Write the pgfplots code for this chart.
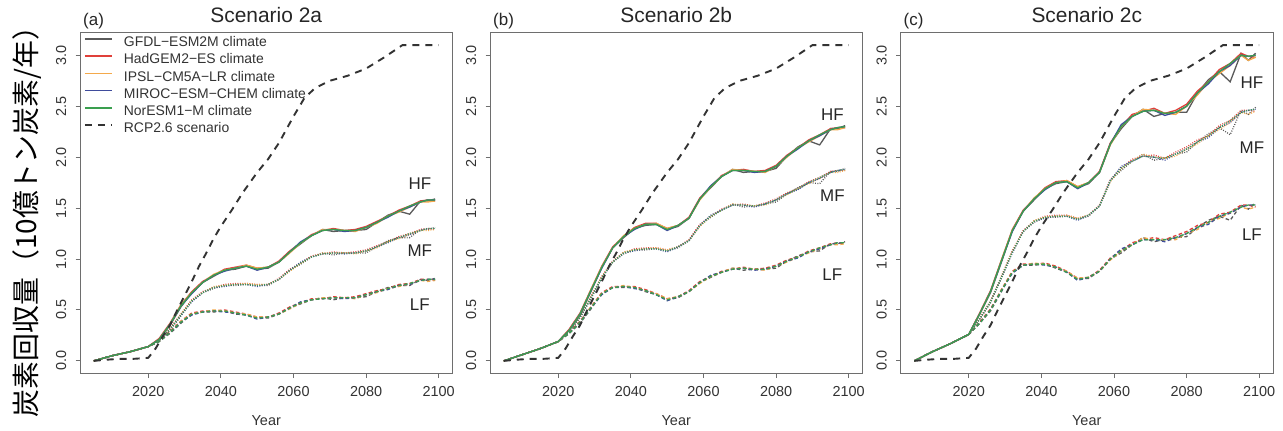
\documentclass[border=0pt]{standalone}
\usepackage{fontspec}
\setmainfont{Liberation Sans}
\newfontfamily\cjk{Noto Sans CJK JP}
\usepackage{pgfplots}
\usepackage{pgfplotstable}
\pgfplotsset{compat=1.18}

\definecolor{cG}{HTML}{5A5A5A}
\definecolor{cH}{HTML}{E0403A}
\definecolor{cI}{HTML}{F4A94B}
\definecolor{cM}{HTML}{3F4C9C}
\definecolor{cN}{HTML}{3A9F4F}
\definecolor{boxgray}{HTML}{6E6E6E}
\definecolor{txt}{HTML}{333333}

\pgfplotstableread[row sep=\\]{
yr hG hH hI hM hN mG mH mI mM mN lG lH lI lM lN \\
2005 0 0 0 0 0 0 0 0 0 0 0 0 0 0 0 \\
2010 0.05 0.05 0.05 0.05 0.05 0.05 0.05 0.05 0.05 0.05 0.05 0.05 0.05 0.05 0.05 \\
2015 0.09 0.09 0.09 0.09 0.09 0.09 0.09 0.09 0.09 0.09 0.09 0.09 0.09 0.09 0.09 \\
2020 0.14 0.14 0.14 0.14 0.14 0.14 0.14 0.14 0.14 0.14 0.14 0.14 0.14 0.14 0.14 \\
2023 0.21 0.22 0.21 0.21 0.21 0.20 0.21 0.20 0.20 0.20 0.19 0.20 0.19 0.19 0.19 \\
2026 0.35 0.37 0.36 0.36 0.36 0.30 0.32 0.31 0.31 0.31 0.27 0.29 0.28 0.28 0.28 \\
2029 0.53 0.55 0.55 0.54 0.54 0.44 0.46 0.46 0.45 0.45 0.37 0.39 0.39 0.38 0.38 \\
2032 0.67 0.68 0.67 0.66 0.67 0.59 0.60 0.59 0.58 0.59 0.46 0.47 0.46 0.45 0.46 \\
2035 0.77 0.78 0.77 0.77 0.77 0.67 0.68 0.67 0.67 0.67 0.48 0.49 0.48 0.48 0.48 \\
2038 0.83 0.84 0.85 0.84 0.84 0.71 0.72 0.73 0.72 0.72 0.48 0.49 0.50 0.49 0.49 \\
2041 0.89 0.90 0.89 0.88 0.89 0.74 0.75 0.74 0.73 0.74 0.49 0.50 0.49 0.48 0.49 \\
2044 0.90 0.92 0.91 0.91 0.91 0.74 0.76 0.75 0.75 0.75 0.46 0.48 0.47 0.47 0.47 \\
2047 0.93 0.94 0.94 0.93 0.93 0.75 0.76 0.76 0.75 0.75 0.45 0.46 0.46 0.45 0.45 \\
2050 0.90 0.91 0.91 0.89 0.90 0.74 0.75 0.75 0.73 0.74 0.42 0.43 0.43 0.41 0.42 \\
2053 0.91 0.92 0.92 0.92 0.92 0.74 0.75 0.75 0.75 0.75 0.42 0.43 0.43 0.43 0.43 \\
2056 0.97 0.98 0.97 0.97 0.97 0.80 0.81 0.80 0.80 0.80 0.46 0.47 0.46 0.46 0.46 \\
2059 1.07 1.08 1.06 1.07 1.07 0.89 0.90 0.88 0.89 0.89 0.52 0.53 0.51 0.52 0.52 \\
2062 1.15 1.16 1.16 1.17 1.16 0.95 0.96 0.96 0.97 0.96 0.56 0.57 0.57 0.58 0.57 \\
2065 1.23 1.24 1.23 1.23 1.23 1.02 1.03 1.02 1.02 1.02 0.60 0.61 0.60 0.60 0.60 \\
2068 1.29 1.28 1.29 1.28 1.28 1.06 1.05 1.06 1.05 1.05 0.62 0.61 0.62 0.61 0.61 \\
2071 1.27 1.30 1.29 1.29 1.29 1.04 1.07 1.06 1.06 1.06 0.60 0.63 0.62 0.62 0.62 \\
2074 1.28 1.28 1.28 1.27 1.28 1.06 1.06 1.06 1.05 1.06 0.62 0.62 0.62 0.61 0.62 \\
2077 1.28 1.29 1.27 1.28 1.28 1.06 1.07 1.05 1.06 1.06 0.62 0.63 0.61 0.62 0.62 \\
2080 1.29 1.32 1.31 1.31 1.31 1.06 1.09 1.08 1.08 1.08 0.63 0.66 0.65 0.65 0.65 \\
2083 1.36 1.37 1.35 1.36 1.36 1.12 1.13 1.11 1.12 1.12 0.68 0.69 0.67 0.68 0.68 \\
2086 1.43 1.42 1.42 1.41 1.42 1.18 1.17 1.17 1.16 1.17 0.72 0.71 0.71 0.70 0.71 \\
2089 1.47 1.48 1.46 1.47 1.47 1.21 1.22 1.20 1.21 1.21 0.74 0.75 0.73 0.74 0.74 \\
2092 1.44 1.52 1.51 1.51 1.52 1.21 1.25 1.24 1.24 1.25 0.74 0.76 0.75 0.75 0.76 \\
2095 1.57 1.57 1.56 1.56 1.56 1.29 1.29 1.28 1.28 1.28 0.80 0.80 0.79 0.79 0.79 \\
2097 1.57 1.58 1.56 1.58 1.58 1.29 1.30 1.28 1.30 1.30 0.79 0.80 0.78 0.80 0.80 \\
2099 1.59 1.57 1.57 1.58 1.58 1.31 1.29 1.29 1.30 1.30 0.81 0.79 0.79 0.80 0.80 \\
}\tabA

\pgfplotstableread[row sep=\\]{
yr hG hH hI hM hN mG mH mI mM mN lG lH lI lM lN \\
2005 0 0 0 0 0 0 0 0 0 0 0 0 0 0 0 \\
2010 0.06 0.06 0.06 0.06 0.06 0.06 0.06 0.06 0.06 0.06 0.06 0.06 0.06 0.06 0.06 \\
2015 0.12 0.12 0.12 0.12 0.12 0.12 0.12 0.12 0.12 0.12 0.12 0.12 0.12 0.12 0.12 \\
2020 0.19 0.19 0.19 0.19 0.19 0.19 0.19 0.19 0.19 0.19 0.19 0.19 0.19 0.19 0.19 \\
2023 0.30 0.31 0.30 0.30 0.30 0.29 0.30 0.29 0.29 0.29 0.27 0.28 0.27 0.27 0.27 \\
2026 0.45 0.47 0.46 0.46 0.46 0.42 0.44 0.43 0.43 0.43 0.37 0.39 0.38 0.38 0.38 \\
2029 0.68 0.70 0.70 0.69 0.69 0.61 0.63 0.63 0.62 0.62 0.51 0.53 0.53 0.52 0.52 \\
2032 0.92 0.93 0.92 0.91 0.92 0.82 0.83 0.82 0.81 0.82 0.66 0.67 0.66 0.65 0.66 \\
2035 1.11 1.12 1.11 1.11 1.11 0.97 0.98 0.97 0.97 0.97 0.72 0.73 0.72 0.72 0.72 \\
2038 1.21 1.22 1.23 1.22 1.22 1.05 1.06 1.07 1.06 1.06 0.72 0.73 0.74 0.73 0.73 \\
2041 1.30 1.31 1.30 1.29 1.30 1.09 1.10 1.09 1.08 1.09 0.72 0.73 0.72 0.71 0.72 \\
2044 1.33 1.35 1.34 1.34 1.34 1.09 1.11 1.10 1.10 1.10 0.68 0.70 0.69 0.69 0.69 \\
2047 1.34 1.35 1.35 1.34 1.34 1.10 1.11 1.11 1.10 1.10 0.65 0.66 0.66 0.65 0.65 \\
2050 1.29 1.30 1.30 1.28 1.29 1.08 1.09 1.09 1.07 1.08 0.60 0.61 0.61 0.59 0.60 \\
2053 1.32 1.33 1.33 1.33 1.33 1.11 1.12 1.12 1.12 1.12 0.62 0.63 0.63 0.63 0.63 \\
2056 1.40 1.41 1.40 1.40 1.40 1.18 1.19 1.18 1.18 1.18 0.68 0.69 0.68 0.68 0.68 \\
2059 1.59 1.60 1.58 1.59 1.59 1.33 1.34 1.32 1.33 1.33 0.77 0.78 0.76 0.77 0.77 \\
2062 1.70 1.71 1.71 1.72 1.71 1.41 1.42 1.42 1.43 1.42 0.82 0.83 0.83 0.84 0.83 \\
2065 1.81 1.82 1.81 1.81 1.81 1.48 1.49 1.48 1.48 1.48 0.87 0.88 0.87 0.87 0.87 \\
2068 1.88 1.87 1.88 1.87 1.87 1.54 1.53 1.54 1.53 1.53 0.91 0.90 0.91 0.90 0.90 \\
2071 1.85 1.88 1.87 1.87 1.87 1.51 1.54 1.53 1.53 1.53 0.89 0.92 0.91 0.91 0.91 \\
2074 1.86 1.86 1.86 1.85 1.86 1.52 1.52 1.52 1.51 1.52 0.90 0.90 0.90 0.89 0.90 \\
2077 1.86 1.87 1.85 1.86 1.86 1.54 1.55 1.53 1.54 1.54 0.90 0.91 0.89 0.90 0.90 \\
2080 1.89 1.92 1.91 1.91 1.91 1.56 1.59 1.58 1.58 1.58 0.91 0.94 0.93 0.93 0.93 \\
2083 2.01 2.02 2.00 2.01 2.01 1.64 1.65 1.63 1.64 1.64 0.98 0.99 0.97 0.98 0.98 \\
2086 2.10 2.09 2.09 2.08 2.09 1.70 1.69 1.69 1.68 1.69 1.03 1.02 1.02 1.01 1.02 \\
2089 2.16 2.17 2.15 2.16 2.16 1.75 1.76 1.74 1.75 1.75 1.07 1.08 1.06 1.07 1.07 \\
2092 2.12 2.22 2.21 2.21 2.22 1.74 1.80 1.79 1.79 1.80 1.08 1.11 1.10 1.10 1.11 \\
2095 2.28 2.28 2.27 2.27 2.27 1.86 1.86 1.85 1.85 1.85 1.15 1.15 1.14 1.14 1.14 \\
2097 2.28 2.29 2.27 2.29 2.29 1.86 1.87 1.85 1.87 1.87 1.15 1.16 1.14 1.16 1.16 \\
2099 2.31 2.29 2.29 2.30 2.30 1.89 1.87 1.87 1.88 1.88 1.17 1.15 1.15 1.16 1.16 \\
}\tabB

\pgfplotstableread[row sep=\\]{
yr hG hH hI hM hN mG mH mI mM mN lG lH lI lM lN \\
2005 0 0 0 0 0 0 0 0 0 0 0 0 0 0 0 \\
2010 0.09 0.09 0.09 0.09 0.09 0.09 0.09 0.09 0.09 0.09 0.09 0.09 0.09 0.09 0.09 \\
2015 0.17 0.17 0.17 0.17 0.17 0.17 0.17 0.17 0.17 0.17 0.17 0.17 0.17 0.17 0.17 \\
2020 0.26 0.26 0.26 0.26 0.26 0.26 0.26 0.26 0.26 0.26 0.26 0.26 0.26 0.26 0.26 \\
2023 0.46 0.47 0.46 0.46 0.46 0.41 0.42 0.41 0.41 0.41 0.37 0.38 0.37 0.37 0.37 \\
2026 0.67 0.69 0.68 0.68 0.68 0.57 0.59 0.58 0.58 0.58 0.49 0.51 0.50 0.50 0.50 \\
2029 0.97 0.99 0.99 0.98 0.98 0.81 0.83 0.83 0.82 0.82 0.68 0.70 0.70 0.69 0.69 \\
2032 1.28 1.29 1.28 1.27 1.28 1.07 1.08 1.07 1.06 1.07 0.87 0.88 0.87 0.86 0.87 \\
2035 1.47 1.48 1.47 1.47 1.47 1.27 1.28 1.27 1.27 1.27 0.94 0.95 0.94 0.94 0.94 \\
2038 1.58 1.59 1.60 1.59 1.59 1.36 1.37 1.38 1.37 1.37 0.94 0.95 0.96 0.95 0.95 \\
2041 1.69 1.70 1.69 1.68 1.69 1.41 1.42 1.41 1.40 1.41 0.95 0.96 0.95 0.94 0.95 \\
2044 1.74 1.76 1.75 1.75 1.75 1.41 1.43 1.42 1.42 1.42 0.91 0.93 0.92 0.92 0.92 \\
2047 1.76 1.77 1.77 1.76 1.76 1.42 1.43 1.43 1.42 1.42 0.87 0.88 0.88 0.87 0.87 \\
2050 1.70 1.71 1.71 1.69 1.70 1.39 1.40 1.40 1.38 1.39 0.80 0.81 0.81 0.79 0.80 \\
2053 1.74 1.75 1.75 1.75 1.75 1.42 1.43 1.43 1.43 1.43 0.81 0.82 0.82 0.82 0.82 \\
2056 1.85 1.86 1.85 1.85 1.85 1.52 1.53 1.52 1.52 1.52 0.88 0.89 0.88 0.88 0.88 \\
2059 2.13 2.14 2.12 2.13 2.13 1.77 1.78 1.76 1.77 1.77 1.00 1.01 0.99 1.00 1.00 \\
2062 2.28 2.30 2.30 2.32 2.30 1.87 1.89 1.89 1.91 1.89 1.06 1.08 1.08 1.10 1.08 \\
2065 2.40 2.42 2.40 2.40 2.40 1.96 1.98 1.96 1.96 1.96 1.14 1.16 1.14 1.14 1.14 \\
2068 2.47 2.45 2.47 2.45 2.45 2.03 2.01 2.03 2.01 2.01 1.21 1.19 1.21 1.19 1.19 \\
2071 2.40 2.48 2.46 2.46 2.46 1.97 2.02 2.00 2.00 2.00 1.17 1.21 1.19 1.19 1.19 \\
2074 2.43 2.43 2.43 2.41 2.43 1.99 1.99 1.99 1.97 1.99 1.19 1.19 1.19 1.17 1.19 \\
2077 2.44 2.46 2.42 2.44 2.44 2.03 2.05 2.01 2.03 2.03 1.21 1.23 1.19 1.21 1.21 \\
2080 2.44 2.52 2.50 2.50 2.50 2.05 2.10 2.08 2.08 2.08 1.22 1.27 1.25 1.25 1.25 \\
2083 2.63 2.65 2.61 2.63 2.63 2.15 2.17 2.13 2.15 2.15 1.31 1.33 1.29 1.31 1.31 \\
2086 2.76 2.74 2.74 2.72 2.74 2.23 2.21 2.21 2.19 2.21 1.38 1.36 1.36 1.34 1.36 \\
2089 2.84 2.86 2.82 2.84 2.84 2.29 2.31 2.27 2.29 2.29 1.42 1.44 1.40 1.42 1.42 \\
2092 2.74 2.92 2.90 2.90 2.92 2.22 2.36 2.34 2.34 2.36 1.38 1.46 1.45 1.45 1.46 \\
2095 3.02 3.02 3.00 3.00 3.00 2.46 2.46 2.44 2.44 2.44 1.53 1.53 1.51 1.51 1.51 \\
2097 2.95 2.99 2.95 2.99 2.99 2.42 2.46 2.42 2.46 2.46 1.49 1.53 1.49 1.53 1.53 \\
2099 3.02 2.98 2.98 3.00 3.00 2.49 2.45 2.45 2.47 2.47 1.55 1.51 1.51 1.53 1.53 \\
}\tabC

\pgfplotstableread[row sep=\\]{
yr v \\
2005 0.00 \\ 2008 0.01 \\ 2012 0.02 \\ 2016 0.02 \\ 2020 0.03 \\ 2022 0.12 \\
2024 0.24 \\ 2026 0.35 \\ 2028 0.50 \\ 2030 0.64 \\ 2032 0.78 \\ 2034 0.93 \\
2036 1.06 \\ 2038 1.20 \\ 2040 1.32 \\ 2043 1.48 \\ 2046 1.65 \\ 2050 1.85 \\
2053 1.98 \\ 2056 2.14 \\ 2060 2.40 \\ 2063 2.58 \\ 2066 2.68 \\ 2070 2.75 \\
2075 2.80 \\ 2080 2.87 \\ 2085 2.98 \\ 2090 3.10 \\ 2100 3.10 \\
}\rcp

\tikzset{
  lab/.style={font=\fontsize{17}{17}\selectfont, text=black!85},
  plab/.style={font=\fontsize{17}{17}\selectfont, text=black!85, anchor=west, inner sep=0pt},
}

\pgfplotsset{
  hf/.style={forget plot, solid, line width=1.3bp},
  mf/.style={forget plot, line width=1.3bp, dash pattern=on 0.9bp off 1.5bp},
  lf/.style={forget plot, line width=1.3bp, dash pattern=on 3.5bp off 2.5bp},
  rcpst/.style={forget plot, color=txt, line width=1.9bp, dash pattern=on 7bp off 6bp},
  panel/.style={
    scale only axis, width=372.5bp, height=341bp,
    xmin=2001.2, xmax=2103.8, ymin=-0.124, ymax=3.224,
    xtick={2020,2040,2060,2080,2100}, ytick={0,0.5,1,1.5,2,2.5,3},
    yticklabels={0.0,0.5,1.0,1.5,2.0,2.5,3.0},
    xtick pos=bottom, ytick pos=left,
    tick align=outside, major tick length=4.5bp,
    axis line style={draw=boxgray, line width=0.9bp},
    tick style={draw=boxgray, line width=0.9bp},
    /pgf/number format/assume math mode=true,
    tick label style={font=\fontsize{14.5}{14.5}\selectfont, text=txt},
    x tick label style={/pgf/number format/1000 sep={}, inner sep=0pt, anchor=north, yshift=-8bp},
    y tick label style={xshift=-9bp, rotate=90, anchor=south, inner sep=0pt},
    xlabel={Year},
    xlabel style={font=\fontsize{14.5}{14.5}\selectfont, text=txt, at={(axis description cs:0.5,0)}, anchor=center, yshift=-47bp},
    title style={font=\fontsize{21}{21}\selectfont, text=black!85, at={(axis description cs:0.5,1)}, anchor=center, yshift=11bp},
    clip=false,
  },
}

\newcommand\drawpanel[1]{%
  \addplot[lf,cG] table[x=yr,y=lG]{#1};
  \addplot[lf,cH] table[x=yr,y=lH]{#1};
  \addplot[lf,cI] table[x=yr,y=lI]{#1};
  \addplot[lf,cM] table[x=yr,y=lM]{#1};
  \addplot[lf,cN] table[x=yr,y=lN]{#1};
  \addplot[mf,cG] table[x=yr,y=mG]{#1};
  \addplot[mf,cH] table[x=yr,y=mH]{#1};
  \addplot[mf,cI] table[x=yr,y=mI]{#1};
  \addplot[mf,cM] table[x=yr,y=mM]{#1};
  \addplot[mf,cN] table[x=yr,y=mN]{#1};
  \addplot[hf,cG] table[x=yr,y=hG]{#1};
  \addplot[hf,cH] table[x=yr,y=hH]{#1};
  \addplot[hf,cI] table[x=yr,y=hI]{#1};
  \addplot[hf,cM] table[x=yr,y=hM]{#1};
  \addplot[hf,cN] table[x=yr,y=hN]{#1};
  \addplot[rcpst] table[x=yr,y=v]{\rcp};
}

\begin{document}
\begin{tikzpicture}
\fill[white] (0,0) rectangle (1283bp,431bp);
\useasboundingbox (0,0) rectangle (1283bp,431bp);
\node[rotate=90, font=\cjk\fontsize{28}{28}\selectfont, text=black] at (27.5bp,216bp) {炭素回収量（10億トン炭素/年）};

\begin{axis}[panel, at={(80bp,57.5bp)}, anchor=south west, title={Scenario 2a},
  legend style={at={(axis description cs:0,1)}, anchor=north west, draw=none, fill=none,
    inner sep=0pt, outer sep=0pt, xshift=4bp, yshift=-4.5bp,
    font=\fontsize{14}{14}\selectfont, text=txt, row sep=5bp,
    nodes={inner sep=0pt, text height=9.8bp, text depth=2.4bp},
    /tikz/every odd column/.append style={column sep=11bp}},
  legend cell align=left,
  legend image code/.code={\draw[#1] (0bp,4bp) -- (27bp,4bp);}]
\addlegendimage{cG, solid, line width=1.6bp}\addlegendentry{GFDL−ESM2M climate}
\addlegendimage{cH, solid, line width=1.6bp}\addlegendentry{HadGEM2−ES climate}
\addlegendimage{cI, solid, line width=1.6bp}\addlegendentry{IPSL−CM5A−LR climate}
\addlegendimage{cM, solid, line width=1.6bp}\addlegendentry{MIROC−ESM−CHEM climate}
\addlegendimage{cN, solid, line width=1.6bp}\addlegendentry{NorESM1−M climate}
\addlegendimage{txt, line width=1.9bp, dash pattern=on 7bp off 6bp}\addlegendentry{RCP2.6 scenario}
\drawpanel{\tabA}
\node[lab] at (axis cs:2094.8,1.737) {HF};
\node[lab] at (axis cs:2094.8,1.08) {MF};
\node[lab] at (axis cs:2094.8,0.556) {LF};
\node[plab] at ([xshift=3bp,yshift=11bp]axis description cs:0,1) {(a)};
\end{axis}

\begin{axis}[panel, at={(490bp,57.5bp)}, anchor=south west, title={Scenario 2b}]
\drawpanel{\tabB}
\node[lab] at (axis cs:2095.5,2.42) {HF};
\node[lab] at (axis cs:2095.5,1.62) {MF};
\node[lab] at (axis cs:2095.5,0.85) {LF};
\node[plab] at ([xshift=3bp,yshift=11bp]axis description cs:0,1) {(b)};
\end{axis}

\begin{axis}[panel, at={(900.5bp,57.5bp)}, anchor=south west, title={Scenario 2c}]
\drawpanel{\tabC}
\node[lab] at (axis cs:2098,2.73) {HF};
\node[lab] at (axis cs:2098,2.09) {MF};
\node[lab] at (axis cs:2098,1.24) {LF};
\node[plab] at ([xshift=3bp,yshift=11bp]axis description cs:0,1) {(c)};
\end{axis}
\end{tikzpicture}
\end{document}
